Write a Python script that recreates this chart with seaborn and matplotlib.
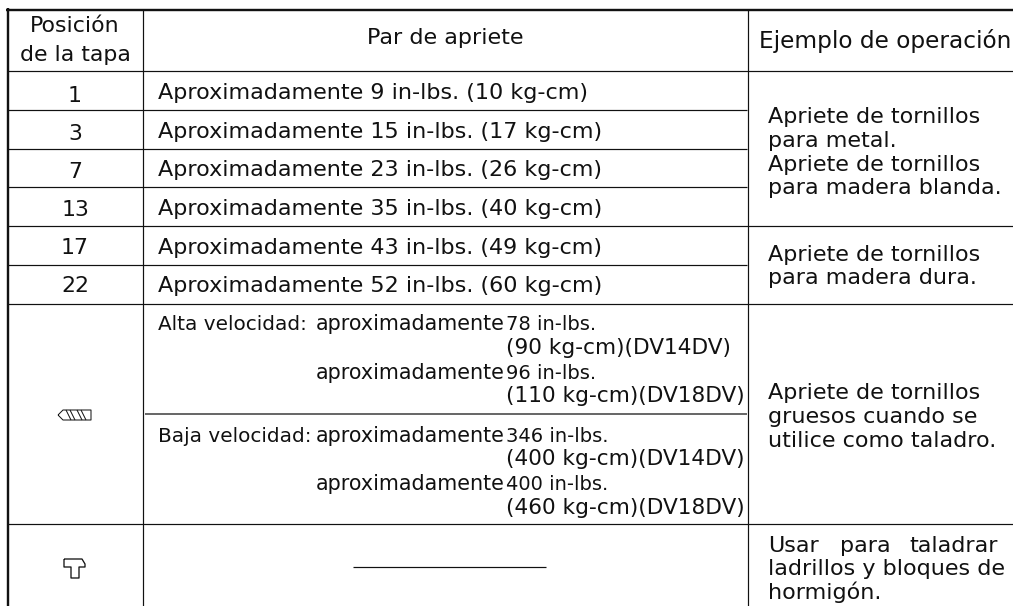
import matplotlib
matplotlib.use("Agg")
import matplotlib.pyplot as plt
import seaborn as sns

W, H = 1013, 606
INK = "#111111"

header_pos = ["Posición", "de la tapa"]
header_torque = "Par de apriete"
header_example = "Ejemplo de operación"

positions = ["1", "3", "7", "13", "17", "22"]
torque_in_lbs = [9, 15, 23, 35, 43, 52]
torque_kg_cm = [10, 17, 26, 40, 49, 60]

speed_labels = ["Alta velocidad:", "Baja velocidad:"]
speed_in_lbs = [[78, 96], [346, 400]]
speed_kg_cm = [[90, 110], [400, 460]]
speed_models = ["DV14DV", "DV18DV"]

example_metal = ["Apriete de tornillos", "para metal.", "Apriete de tornillos", "para madera blanda."]
example_dura = ["Apriete de tornillos", "para madera dura."]
example_grueso = ["Apriete de tornillos", "gruesos cuando se", "utilice como taladro."]
example_usar = ["ladrillos y bloques de", "hormigón."]
usar_words = ["Usar", "para", "taladrar"]

sns.set_theme(style="white")
plt.rcParams["font.family"] = ["DejaVu Sans"]

fig = plt.figure(figsize=(W / 100, H / 100), dpi=100)
ax = fig.add_axes([0, 0, 1, 1])


def rule(xs, ys, lw=1.0, color=INK):
    sns.lineplot(x=xs, y=ys, ax=ax, sort=False, estimator=None, color=color,
                 lw=lw * 0.72, solid_capstyle="butt", legend=False)


def label(x, y, s, size=22.3, ha="left"):
    ax.text(x, y, s, fontsize=size * 0.72, ha=ha, va="baseline", color=INK)


# outer frame, thick
rule([6, W], [9.5, 9.5], 2.4)
rule([7.5, 7.5], [8, H], 2.4)

# columns
rule([142.5, 142.5], [10, H], 1.2)
rule([747.5, 747.5], [10, H], 1.2)

# row rules
for y in [71, 226, 303.5, 524]:
    rule([8, W], [y, y], 1.2)
for y in [109.5, 148.5, 187, 264.5]:
    rule([8, 747], [y, y], 1.2)
rule([145, 747], [414, 414], 1.6, "#444444")

# header
label(75, 32, header_pos[0], size=22, ha="center")
label(75, 61, header_pos[1], size=22, ha="center")
label(445, 44, header_torque, ha="center")
label(759, 48, header_example, size=23.2)

# simple rows
text_base = [99, 138, 176.5, 215, 254, 292.5]
num_base = [101.5, 139.5, 177.5, 216, 254, 292.5]
for p, a, b, yt, yn in zip(positions, torque_in_lbs, torque_kg_cm, text_base, num_base):
    label(75, yn, p, size=22, ha="center")
    label(158, yt, f"Aproximadamente {a} in-lbs. ({b} kg-cm)")

# two speed rows
speed_base = [[330, 354, 379, 402], [442, 465, 490, 514]]
for s, lbs, kg, ys in zip(speed_labels, speed_in_lbs, speed_kg_cm, speed_base):
    label(158, ys[0], s, size=20)
    label(316, ys[0], "aproximadamente", size=20.6)
    label(506, ys[0], f"{lbs[0]} in-lbs.", size=19.5)
    label(506, ys[1], f"({kg[0]} kg-cm)({speed_models[0]})", size=21.7)
    label(316, ys[2], "aproximadamente", size=20.6)
    label(506, ys[2], f"{lbs[1]} in-lbs.", size=19.5)
    label(506, ys[3], f"({kg[1]} kg-cm)({speed_models[1]})", size=21.7)

# right column
for lines, ys in [(example_metal, [123, 147, 171, 194]),
                  (example_dura, [261, 284]),
                  (example_grueso, [399, 423, 447]),
                  (example_usar, [575, 599])]:
    for s, y in zip(lines, ys):
        label(768, y, s, size=22.3)
for s, x in zip(usar_words, [768, 840, 909]):
    label(x, 552, s, size=22.3)

# dash in the empty torque cell
rule([353, 546], [567, 567], 1.2)

# drill icon
rule([58, 63, 91, 91, 63, 58], [415, 410, 410, 420, 420, 415], 1.0)
rule([66, 71], [410, 420], 1.0)
rule([70, 75], [410, 420], 1.0)
rule([77, 82], [410, 420], 1.0)
rule([81, 86], [410, 420], 1.0)

# hammer icon
rule([64, 82, 85, 85, 79, 79, 71, 71, 64, 64],
     [559, 559, 564, 567, 567, 578, 578, 567, 567, 559], 1.3)

ax.set_xlim(0, W)
ax.set_ylim(H, 0)
ax.axis("off")
fig.savefig("out.png", dpi=100, facecolor="white")
